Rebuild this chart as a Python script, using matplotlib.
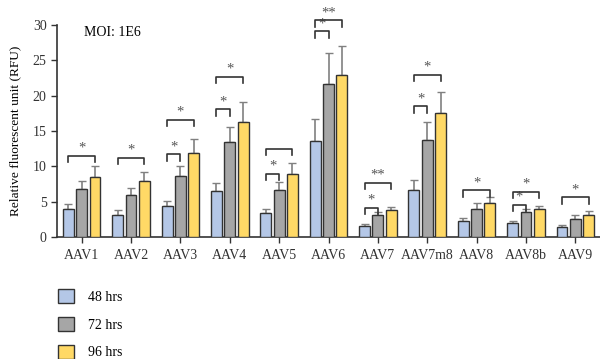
import numpy as np
import matplotlib.pyplot as plt
from matplotlib.patches import Patch

plt.rcParams['font.family'] = ['Liberation Serif', 'DejaVu Serif']

groups = ['AAV1', 'AAV2', 'AAV3', 'AAV4', 'AAV5', 'AAV6', 'AAV7', 'AAV7m8',
          'AAV8', 'AAV8b', 'AAV9']
series = ['48 hrs', '72 hrs', '96 hrs']
colors = ['#b4c7e7', '#a6a6a6', '#ffd966']

h48 = [4.0, 3.15, 4.4, 6.5, 3.4, 13.6, 1.55, 6.6, 2.3, 2.0, 1.45]
h72 = [6.8, 6.0, 8.65, 13.4, 6.6, 21.7, 3.05, 13.75, 4.0, 3.5, 2.6]
h96 = [8.5, 7.9, 11.9, 16.3, 8.9, 22.9, 3.75, 17.6, 4.8, 3.95, 3.15]
e48 = [0.7, 0.65, 0.7, 1.1, 0.55, 3.1, 0.3, 1.4, 0.4, 0.2, 0.2]
e72 = [1.1, 1.0, 1.35, 2.2, 1.2, 4.3, 0.55, 2.55, 0.85, 0.5, 0.45]
e96 = [1.5, 1.3, 1.95, 2.8, 1.6, 4.2, 0.5, 2.9, 0.9, 0.45, 0.5]

# significance brackets: (group, left bar, right bar, height, label)
brackets = [
    (0, 0, 2, 11.5, '*'),
    (1, 0, 2, 11.2, '*'),
    (2, 0, 1, 11.7, '*'), (2, 0, 2, 16.6, '*'),
    (3, 0, 1, 18.1, '*'), (3, 0, 2, 22.7, '*'),
    (4, 0, 1, 8.95, '*'), (4, 0, 2, 12.5, ''),
    (5, 0, 1, 29.1, '*'), (5, 0, 2, 30.7, '**'),
    (6, 0, 1, 4.15, '*'), (6, 0, 2, 7.7, '**'),
    (7, 0, 1, 18.5, '*'), (7, 0, 2, 23.0, '*'),
    (8, 0, 2, 6.6, '*'),
    (9, 0, 1, 4.55, '*'), (9, 0, 2, 6.4, '*'),
    (10, 0, 2, 5.6, '*'),
]

fig = plt.figure(figsize=(6.0, 3.59), dpi=100)
ax = fig.add_axes([0.095, 0.34, 0.905, 0.59])

x = np.arange(len(groups))
width = 0.22
step = 0.27
heights = [h48, h72, h96]
errs = [e48, e72, e96]
for i in range(3):
    ax.bar(x + (i - 1) * step, heights[i], width, color=colors[i],
           edgecolor='#333333', linewidth=1.0, label=series[i], zorder=3)
    ax.errorbar(x + (i - 1) * step, heights[i],
                yerr=[np.zeros(len(groups)), errs[i]], fmt='none',
                ecolor='#808080', elinewidth=1.2, capsize=3, capthick=1.0,
                zorder=2)

leg_drop = 0.9
for g, a, b, yb, lab in brackets:
    xa = g + (a - 1) * step
    xb = g + (b - 1) * step
    ax.plot([xa, xa, xb, xb], [yb - leg_drop, yb, yb, yb - leg_drop],
            color='#333333', lw=1.2, clip_on=False, zorder=4)
    if lab:
        ax.text((xa + xb) / 2, yb + 0.15, lab, ha='center', va='bottom',
                fontsize=10.5, color='#555555', clip_on=False)

ax.set_xlim(-0.5, len(groups) - 0.5)
ax.set_ylim(0, 30)
ax.set_yticks([0, 5, 10, 15, 20, 25, 30])
ax.set_xticks(x)
ax.set_xticklabels(groups)
ax.tick_params(axis='both', labelsize=10, colors='#333333', length=4,
               width=1.0)
ax.tick_params(axis='x', pad=5)
for s in ['top', 'right']:
    ax.spines[s].set_visible(False)
for s in ['left', 'bottom']:
    ax.spines[s].set_color('#333333')
    ax.spines[s].set_linewidth(1.2)
ax.set_ylabel('Relative fluorescent unit (RFU)', fontsize=9.6, labelpad=8)
ax.text(0.05, 0.965, 'MOI: 1E6', transform=ax.transAxes, fontsize=10,
        ha='left', va='center')

handles = [Patch(facecolor=colors[i], edgecolor='#333333', linewidth=1.0)
           for i in range(3)]
fig.legend(handles, series, loc='upper left', bbox_to_anchor=(0.087, 0.21),
           frameon=False, fontsize=10, handlelength=1.15, handleheight=1.15,
           labelspacing=0.95, handletextpad=1.05, borderaxespad=0)

fig.savefig('out.png', dpi=100)
